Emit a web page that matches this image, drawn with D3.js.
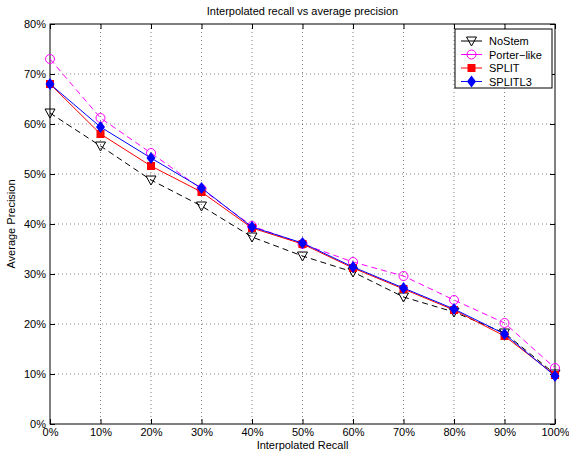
<!DOCTYPE html>
<html><head><meta charset="utf-8">
<script src="https://cdn.jsdelivr.net/npm/d3@7"></script>
<style>body{margin:0;background:#fff}svg{display:block}text{font-family:"Liberation Sans",Arial,sans-serif}</style>
</head><body><svg id="c" width="569" height="455"></svg>
<script>
const recall = [0,10,20,30,40,50,60,70,80,90,100];
const noStem = [62.2,55.6,48.8,43.6,37.4,33.6,30.4,25.4,22.4,18.2,10.0];
const porter = [73.0,61.2,54.2,47.0,39.6,36.0,32.4,29.6,24.8,20.2,11.2];
const split = [68.0,58.0,51.6,46.4,39.2,36.0,31.2,27.0,22.8,17.6,9.8];
const splitL3 = [68.0,59.4,53.2,47.2,39.4,36.2,31.4,27.2,23.0,18.0,9.6];
const yTicks = [0,10,20,30,40,50,60,70,80];
const xTicks = [0,10,20,30,40,50,60,70,80,90,100];

const svg = d3.select("#c");
const L=50,R=555,T=24,B=424;
const x = d3.scaleLinear().domain([0,100]).range([L,R]);
const y = d3.scaleLinear().domain([0,80]).range([B,T]);

// grid
const g = svg.append("g");
xTicks.slice(1,-1).forEach(t=>g.append("line").attr("x1",x(t)).attr("x2",x(t)).attr("y1",T).attr("y2",B).attr("stroke","#000").attr("stroke-width",0.5).attr("stroke-dasharray","1,3"));
yTicks.slice(1,-1).forEach(t=>g.append("line").attr("x1",L).attr("x2",R).attr("y1",y(t)).attr("y2",y(t)).attr("stroke","#000").attr("stroke-width",0.5).attr("stroke-dasharray","1,3"));

// axes
const xa = svg.append("g").attr("transform",`translate(0,${B})`).call(d3.axisBottom(x).tickValues(xTicks).tickFormat(d=>d+"%").tickSizeInner(-5).tickSizeOuter(0).tickPadding(4));
const xt = svg.append("g").attr("transform",`translate(0,${T})`).call(d3.axisTop(x).tickValues(xTicks).tickFormat("").tickSizeInner(-5).tickSizeOuter(0));
const ya = svg.append("g").attr("transform",`translate(${L},0)`).call(d3.axisLeft(y).tickValues(yTicks).tickFormat(d=>d+"%").tickSizeInner(-5).tickSizeOuter(0).tickPadding(4));
const yr = svg.append("g").attr("transform",`translate(${R},0)`).call(d3.axisRight(y).tickValues(yTicks).tickFormat("").tickSizeInner(-5).tickSizeOuter(0));
[xa,xt,ya,yr].forEach(a=>{a.select(".domain").remove();a.selectAll("text").attr("font-size",11).attr("fill","#000");a.selectAll("line").attr("stroke","#000");});
svg.append("rect").attr("x",L).attr("y",T).attr("width",R-L).attr("height",B-T).attr("fill","none").attr("stroke","#000").attr("stroke-width",1);

// titles
svg.append("text").attr("x",(L+R)/2).attr("y",15).attr("text-anchor","middle").attr("font-size",11).text("Interpolated recall vs average precision");
svg.append("text").attr("x",(L+R)/2).attr("y",449).attr("text-anchor","middle").attr("font-size",11).text("Interpolated Recall");
svg.append("text").attr("transform",`translate(15,${(T+B)/2}) rotate(-90)`).attr("text-anchor","middle").attr("font-size",11).text("Average Precision");

const series = [
 {name:"NoStem",vals:noStem,color:"#000",dash:"6,4",marker:"tri"},
 {name:"Porter\u2212like",vals:porter,color:"#ff00ff",dash:"6,4",marker:"circle"},
 {name:"SPLIT",vals:split,color:"#ff0000",dash:null,marker:"square"},
 {name:"SPLITL3",vals:splitL3,color:"#0000ff",dash:null,marker:"diamond"}
];
const line = d3.line().x((d,i)=>x(recall[i])).y(d=>y(d));
function marker(sel,s,cx,cy){
  if(s.marker==="tri") sel.append("path").attr("d",`M${cx-5},${cy-4}L${cx+5},${cy-4}L${cx},${cy+5}Z`).attr("fill","none").attr("stroke",s.color).attr("stroke-width",1);
  else if(s.marker==="circle") sel.append("circle").attr("cx",cx).attr("cy",cy).attr("r",4.5).attr("fill","none").attr("stroke",s.color).attr("stroke-width",1);
  else if(s.marker==="square") sel.append("rect").attr("x",cx-4).attr("y",cy-4).attr("width",8).attr("height",8).attr("fill",s.color);
  else sel.append("path").attr("d",`M${cx},${cy-6}L${cx+4.5},${cy}L${cx},${cy+6}L${cx-4.5},${cy}Z`).attr("fill",s.color);
}
series.forEach(s=>{
  const gs=svg.append("g");
  gs.append("path").datum(s.vals).attr("d",line).attr("fill","none").attr("stroke",s.color).attr("stroke-width",1).attr("stroke-dasharray",s.dash);
  s.vals.forEach((v,i)=>marker(gs,s,x(recall[i]),y(v)));
});

// legend
const lg = svg.append("g");
lg.append("rect").attr("x",455).attr("y",29).attr("width",97).attr("height",59).attr("fill","#fff").attr("stroke","#000").attr("stroke-width",1);
series.forEach((s,i)=>{
  const yy=41+i*13.5;
  lg.append("line").attr("x1",461).attr("x2",482).attr("y1",yy).attr("y2",yy).attr("stroke",s.color).attr("stroke-width",1);
  marker(lg,s,471.5,yy);
  lg.append("text").attr("x",489).attr("y",yy+4).attr("font-size",11).text(s.name);
});
</script></body></html>
